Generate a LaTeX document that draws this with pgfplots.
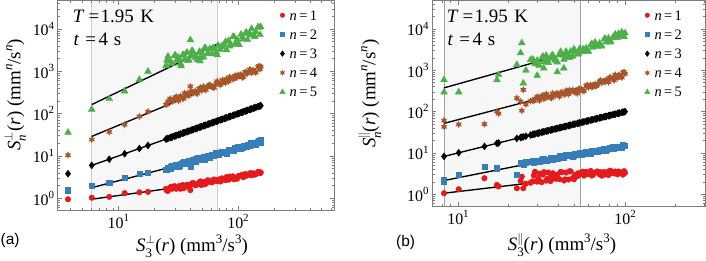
\documentclass[border=0pt]{standalone}
\usepackage{fontspec}
\setmainfont{Liberation Serif}
\newfontfamily\lsans{Liberation Sans}
\usepackage{pgfplots}
\usepackage{pgfplotstable}
\pgfplotsset{compat=1.18}

\definecolor{cR}{RGB}{228,26,28}
\definecolor{cB}{RGB}{55,126,184}
\definecolor{cBr}{RGB}{166,86,40}
\definecolor{cG}{RGB}{77,175,74}
\definecolor{shadecol}{RGB}{247,247,247}
\definecolor{framecol}{RGB}{125,125,125}
\definecolor{vlL}{RGB}{205,205,205}
\definecolor{vlR}{RGB}{160,160,160}

\pgfdeclareplotmark{sixstar}{%
 \pgfpathmoveto{\pgfpointpolar{90}{3.7bp}}%
 \pgfpathlineto{\pgfpointpolar{120}{1.9bp}}%
 \pgfpathlineto{\pgfpointpolar{150}{3.7bp}}%
 \pgfpathlineto{\pgfpointpolar{180}{1.9bp}}%
 \pgfpathlineto{\pgfpointpolar{210}{3.7bp}}%
 \pgfpathlineto{\pgfpointpolar{240}{1.9bp}}%
 \pgfpathlineto{\pgfpointpolar{270}{3.7bp}}%
 \pgfpathlineto{\pgfpointpolar{300}{1.9bp}}%
 \pgfpathlineto{\pgfpointpolar{330}{3.7bp}}%
 \pgfpathlineto{\pgfpointpolar{0}{1.9bp}}%
 \pgfpathlineto{\pgfpointpolar{30}{3.7bp}}%
 \pgfpathlineto{\pgfpointpolar{60}{1.9bp}}%
 \pgfpathclose
 \pgfusepathqfill}

\newcommand\su[1]{\raisebox{0.42em}{\fontsize{13}{13}\selectfont #1}}
\newcommand\sd[1]{\raisebox{-0.3em}{\fontsize{13}{13}\selectfont #1}}
\newcommand\tsu[1]{\raisebox{0.42em}{\fontsize{11}{11}\selectfont #1}}
\newcommand\Sfn[2]{\textit{S}\rlap{\sd{#1}}\su{#2}\hspace{0.5bp}}

\pgfplotstableread{
x a b c d e
3.8 0.95 1.55 3.8 10.5 36
6.0 1.03 1.95 6.0 24.5 125
8.4 1.08 2.3 8.4 37 225
11.3 1.32 3.05 11.3 55 340
15.0 1.38 3.8 15.0 86 640
17.7 1.42 4.0 17.7 112 1000
25 1.67 4.79 25 163 1362
26 1.50 5.25 26 196 2270
27.1 1.80 4.90 27.1 226 1746
28.2 1.68 5.96 28.2 194 1527
29.4 1.94 5.56 29.4 212 2312
30.6 1.69 6.24 30.6 248 1780
31.8 1.84 5.68 31.8 202 2143
33.1 1.68 6.44 33.1 260 1546
34.5 2.06 7.09 34.5 231 2419
35.9 1.87 6.46 35.9 306 1920
37.4 2.09 6.89 37.4 276 2814
38.9 1.86 7.64 38.9 266 1841
40.5 2.10 6.75 40.5 336 2370
42.2 2.30 7.98 42.2 303 2863
43.9 2.04 7.42 43.9 342 2130
45.7 2.16 8.96 45.7 299 1865
47.6 2.39 8.44 47.6 384 2916
49.5 2.05 8.27 49.5 352 2807
51.6 2.43 9.68 51.6 438 2161
53.7 2.21 9.10 53.7 364 3485
55.9 2.68 9.89 55.9 425 2766
58.2 2.47 9.12 58.2 480 3451
60.6 2.37 10.77 60.6 426 2568
63.1 2.78 10.25 63.1 410 3418
65.7 2.56 11.87 65.7 527 2897
68.4 2.77 10.59 68.4 532 4064
71.2 2.49 11.75 71.2 479 3308
74.1 2.95 12.79 74.1 626 3850
77.1 2.74 11.90 77.1 573 4325
80.3 3.18 11.68 80.3 659 3206
83.6 2.76 13.79 83.6 584 5305
87.0 3.05 13.96 87.0 693 4330
90.6 3.30 13.13 90.6 655 6505
94.3 3.00 15.68 94.3 790 4377
98.2 2.89 14.90 98.2 723 5595
102 3.42 16.36 102 790 4270
106 3.40 15.19 106 848 7510
111 3.14 17.12 111 745 5785
115 3.76 16.57 115 969 7862
120 3.50 18.80 120 889 5643
125 3.83 17.89 125 1108 7970
130 3.48 19.04 130 920 10190
135 3.89 20.02 135 1053 7265
141 3.71 18.50 141 938 8485
147 4.20 22.11 147 1267 11230
153 3.91 21.04 153 1125 7320
155 4.07 23.8 155 1295 11300
25.5 1.52 4.67 25.5 166 1846
27.7 1.87 5.58 27.7 206 1509
30.0 1.71 6.27 30.0 243 2422
32.4 1.95 5.95 32.4 231 1910
35.2 1.73 7.27 35.2 228 2452
38.1 2.04 6.57 38.1 301 1815
41.3 2.25 7.61 41.3 321 3110
44.8 2.07 8.55 44.8 307 2232
48.5 2.50 8.39 48.5 411 2139
52.6 2.16 8.41 52.6 387 3549
57.0 2.47 10.16 57.0 463 2629
61.8 2.72 10.72 61.8 421 3595
67.0 2.59 10.53 67.0 583 2439
72.6 2.92 12.85 72.6 522 3867
78.7 2.68 12.49 78.7 540 5058
85.3 3.27 14.17 85.3 735 3949
92.4 2.80 13.48 92.4 669 6681
100 3.27 16.77 100 825 4430
108.5 3.61 15.81 108.5 716 6390
117.5 3.42 16.34 117.5 929 8350
127.5 3.96 20.16 127.5 1094 7190
138 3.63 19.17 138 995 6585
150 4.20 22.26 150 1340 10830
40.0 1.56 5.6 nan 440 5530
33.5 nan nan nan nan 1340
48.2 nan nan nan nan 1750
}\tabL

\pgfplotstableread{
x a b c d e
8.25 1.06 2.02 8.25 61 590
8.25 nan 2.30 nan 43 297
10.1 1.32 2.94 10.1 49 297
14.4 2.44 4.67 14.4 50 nan
17.1 1.68 4.27 17.1 100 590
17.5 1.55 nan 17.5 90 780
22.5 1.40 2.94 22.5 212 1370
23.7 2.10 5.65 23.7 176 2640
24.1 2.67 5.90 24.1 106 4600
24.6 1.40 5.30 24.6 338 490
25.5 1.80 6.00 25.5 150 1000
27.2 1.90 6.20 27.2 180 1800
28 2.05 6.45 28 187 1849
28.9 3.51 6.08 28.9 202 1455
29.8 2.02 6.63 29.8 231 1741
30.7 3.16 6.14 30.7 186 1288
31.7 1.96 6.75 31.7 235 1960
32.7 3.44 7.24 32.7 204 1589
33.7 2.14 6.71 33.7 267 2273
34.7 3.36 7.01 34.7 236 1537
35.8 2.08 7.58 35.8 223 1952
36.9 3.23 6.86 36.9 277 2333
38.1 2.52 7.79 38.1 245 1783
39.3 2.98 7.34 39.3 272 1581
40.5 2.32 8.46 40.5 233 2401
41.8 3.43 8.04 41.8 294 2330
43.1 2.15 7.88 43.1 265 1832
44.4 3.35 8.87 44.4 324 2866
45.8 2.27 8.42 45.8 265 2323
47.2 3.60 8.95 47.2 303 2861
48.7 2.48 8.37 48.7 336 2184
50.2 2.98 9.49 50.2 293 2857
51.8 2.74 9.09 51.8 277 2459
53.4 3.11 10.15 53.4 349 3314
55.1 3.36 9.27 55.1 352 2782
56.8 2.82 10.01 56.8 318 3117
58.6 3.48 10.65 58.6 418 3425
60.4 3.07 10.03 60.4 384 2871
62.3 3.67 9.84 62.3 444 4045
64.2 2.93 11.16 64.2 395 3607
66.2 3.29 11.22 66.2 470 4773
68.3 3.57 10.66 68.3 447 3766
70.4 3.04 12.18 70.4 541 4488
72.6 2.81 11.67 72.6 498 3846
74.9 3.47 12.52 74.9 547 5651
77.2 3.37 11.79 77.2 591 4835
79.6 2.92 12.84 79.6 518 6012
82.1 3.66 12.50 82.1 680 4940
84.7 3.22 13.73 84.7 626 6280
87.3 3.55 13.15 87.3 782 7482
90.0 3.03 13.75 90.0 653 6146
92.8 3.45 14.28 92.8 753 6890
95.7 3.14 13.35 95.7 671 8395
98.7 3.63 15.26 98.7 909 6481
100 3.30 14.67 100 828 7985
28.45 2.85 5.73 28.45 181 1666
30.25 2.36 6.53 30.25 216 1390
32.2 2.99 7.10 32.2 245 2176
34.2 2.36 6.78 34.2 226 1761
36.35 2.77 7.85 36.35 215 2232
38.7 2.37 7.20 38.7 273 1705
41.15 3.48 8.02 41.15 282 2830
43.75 2.29 8.71 43.75 260 2095
46.5 3.60 8.51 46.5 335 2029
49.45 2.30 8.46 49.45 304 3271
52.6 3.24 9.72 52.6 351 2495
55.95 3.53 10.07 55.95 316 3300
59.5 3.11 9.85 59.5 442 2917
63.25 2.84 11.41 63.25 399 4417
67.25 3.45 11.07 67.25 416 3824
71.5 3.41 12.12 71.5 571 3987
76.05 3.00 11.57 76.05 525 5918
80.85 3.72 13.62 80.85 654 4813
85.95 3.22 12.90 85.95 572 6303
91.4 3.56 13.14 91.4 748 7762
97.2 2.99 15.34 97.2 889 7302
29.8 nan nan nan nan 750
32.6 nan nan nan nan 1130
39.3 nan nan nan nan 910
43.0 nan nan nan nan 1130
}\tabR

\pgfplotsset{
 myax/.style={
  scale only axis, axis on top, anchor=south west,
  axis line style={framecol, line width=1bp},
  every tick/.style={framecol, line width=0.6bp},
  major tick length=4.5bp, minor tick length=2.5bp,
  tick label style={font=\fontsize{16}{16}\selectfont},
  label style={font=\fontsize{19}{19}\selectfont},
  ytick={1,10,100,1000,10000},
  yticklabels={10\tsu{0},10\tsu{1},10\tsu{2},10\tsu{3},10\tsu{4}},
  minor ytick={0.6,0.7,0.8,0.9,2,3,4,5,6,7,8,9,20,30,40,50,60,70,80,90,200,300,400,500,600,700,800,900,2000,3000,4000,5000,6000,7000,8000,9000,20000,30000,40000},
  xtick={10,100}, xticklabels={10\tsu{1},10\tsu{2}},
  legend cell align=left,
  legend style={draw=none, fill=none, inner sep=0pt, row sep=6.5bp, column sep=3bp,
    font=\fontsize{14.5}{14.5}\selectfont,
    nodes={inner sep=1.5bp, text height=9.7bp, text depth=0bp}},
 },
 sA/.style={only marks, mark=*, mark size=2.8bp, cR},
 sB/.style={only marks, mark=square*, mark size=2.6bp, cB},
 sC/.style={only marks, mark=diamond*, mark size=3.5bp, black},
 sD/.style={only marks, mark=sixstar, cBr},
 sE/.style={only marks, mark=triangle*, mark size=3.9bp, cG},
 fitline/.style={black, line width=1.35bp, forget plot},
}

\begin{document}
\begin{tikzpicture}
\useasboundingbox (0,0) rectangle (706bp,261bp);

\begin{axis}[xmode=log, ymode=log, myax, at={(57.7bp,50.3bp)}, width=276.3bp, height=210bp,
  xmin=3.116, xmax=634, ymin=0.509, ymax=46800,
  minor xtick={4,5,6,7,8,9,20,30,40,50,60,70,80,90,200,300,400,500,600},
  xlabel={\Sfn{3}{$\perp$}(\textit{r}) (mm\su{3}/s\su{3})},
  ylabel={\Sfn{\textit{n}}{$\perp$}(\textit{r}) (mm\su{\textit{n}}/s\su{\textit{n}})},
  x label style={at={(axis description cs:0.486,-0.17)}, anchor=center},
  y label style={at={(axis description cs:-0.1545,0.552)}, anchor=center},
  legend style={at={(0.803,0.962)}, anchor=north west},
  legend image code/.code={\draw[mark repeat=2,mark phase=2,#1,mark options={scale=0.8}] plot coordinates {(0bp,0bp)(4bp,0bp)(8bp,0bp)};},
]
\addplot[fill=shadecol, draw=none, forget plot] coordinates {(6.0,0.509)(66.8,0.509)(66.8,46800)(6.0,46800)};
\addplot[vlL, line width=0.8bp, forget plot] coordinates {(6.0,0.509)(6.0,46800)};
\addplot[vlL, line width=0.8bp, forget plot] coordinates {(66.8,0.509)(66.8,46800)};
\addplot[sA] table[x=x,y=a]{\tabL}; \addlegendentry{\textit{n}\,=\,1}
\addplot[sB] table[x=x,y=b]{\tabL}; \addlegendentry{\textit{n}\,=\,2}
\addplot[sC] table[x=x,y=c]{\tabL}; \addlegendentry{\textit{n}\,=\,3}
\addplot[sD] table[x=x,y=d]{\tabL}; \addlegendentry{\textit{n}\,=\,4}
\addplot[sE] table[x=x,y=e]{\tabL}; \addlegendentry{\textit{n}\,=\,5}
\addplot[fitline] coordinates {(6.0,0.95)(66.8,2.45)};
\addplot[fitline] coordinates {(6.0,1.78)(66.8,10.5)};
\addplot[fitline] coordinates {(6.0,6.0)(66.8,66.8)};
\addplot[fitline] coordinates {(6.0,29)(66.8,490)};
\addplot[fitline] coordinates {(6.0,164)(66.8,4360)};
\end{axis}

\begin{axis}[xmode=log, ymode=log, myax, at={(432bp,54.3bp)}, width=273bp, height=206bp,
  xmin=6.99, xmax=301, ymin=0.50, ymax=48500,
  minor xtick={7,8,9,20,30,40,50,60,70,80,90,200,300},
  xlabel={\Sfn{3}{$\parallel$}(\textit{r}) (mm\su{3}/s\su{3})},
  ylabel={\Sfn{\textit{n}}{$\parallel$}(\textit{r}) (mm\su{\textit{n}}/s\su{\textit{n}})},
  x label style={at={(axis description cs:0.476,-0.186)}, anchor=center},
  y label style={at={(axis description cs:-0.228,0.548)}, anchor=center},
  legend style={at={(0.778,0.961)}, anchor=north west},
  legend image code/.code={\draw[mark repeat=2,mark phase=2,#1,mark options={scale=0.8}] plot coordinates {(0bp,0bp)(4bp,0bp)(8bp,0bp)};},
]
\addplot[fill=shadecol, draw=none, forget plot] coordinates {(8.25,0.5)(53.8,0.5)(53.8,48500)(8.25,48500)};
\addplot[vlR, line width=0.8bp, forget plot] coordinates {(8.25,0.5)(8.25,48500)};
\addplot[vlR, line width=0.8bp, forget plot] coordinates {(53.8,0.5)(53.8,48500)};
\addplot[sA] table[x=x,y=a]{\tabR}; \addlegendentry{\textit{n}\,=\,1}
\addplot[sB] table[x=x,y=b]{\tabR}; \addlegendentry{\textit{n}\,=\,2}
\addplot[sC] table[x=x,y=c]{\tabR}; \addlegendentry{\textit{n}\,=\,3}
\addplot[sD] table[x=x,y=d]{\tabR}; \addlegendentry{\textit{n}\,=\,4}
\addplot[sE] table[x=x,y=e]{\tabR}; \addlegendentry{\textit{n}\,=\,5}
\addplot[fitline] coordinates {(8.25,1.06)(53.8,2.6)};
\addplot[fitline] coordinates {(8.25,2.15)(53.8,9.7)};
\addplot[fitline] coordinates {(8.25,8.25)(53.8,53.8)};
\addplot[fitline] coordinates {(8.25,52)(53.8,380)};
\addplot[fitline] coordinates {(8.25,376)(53.8,3160)};
\end{axis}

\node[anchor=base west, inner sep=0pt, font=\fontsize{19}{19}\selectfont] at (72.7bp,238.3bp) {\textit{T}\hspace{4bp}=\hspace{1.5bp}1.95\hspace{6.5bp}K};
\node[anchor=base west, inner sep=0pt, font=\fontsize{19}{19}\selectfont] at (73.5bp,215.5bp) {\textit{t}\hspace{6bp}=\hspace{2.5bp}4\hspace{6bp}s};
\node[anchor=base west, inner sep=0pt, font=\fontsize{19}{19}\selectfont] at (446.7bp,238.3bp) {\textit{T}\hspace{4bp}=\hspace{1.5bp}1.95\hspace{6.5bp}K};
\node[anchor=base west, inner sep=0pt, font=\fontsize{19}{19}\selectfont] at (447.5bp,215.5bp) {\textit{t}\hspace{6bp}=\hspace{2.5bp}4\hspace{6bp}s};
\node[anchor=west, inner sep=0pt, font=\lsans\fontsize{15.5}{15.5}\selectfont] at (0.5bp,20bp) {(a)};
\node[anchor=west, inner sep=0pt, font=\lsans\fontsize{15.5}{15.5}\selectfont] at (396bp,18bp) {(b)};
\end{tikzpicture}
\end{document}
